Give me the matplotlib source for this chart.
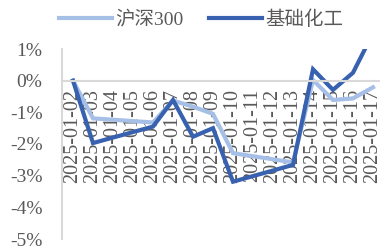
import numpy as np
import matplotlib
matplotlib.use('Agg')
import matplotlib.pyplot as plt

plt.rcParams['font.family'] = ['Liberation Serif', 'Noto Sans CJK SC', 'DejaVu Sans']

dates = ['2025-01-02', '2025-01-03', '2025-01-04', '2025-01-05', '2025-01-06',
         '2025-01-07', '2025-01-08', '2025-01-09', '2025-01-10', '2025-01-11',
         '2025-01-12', '2025-01-13', '2025-01-14', '2025-01-15', '2025-01-16',
         '2025-01-17']
# weekends have no data (nan), the line just connects over them
hs300 = [0.0, -1.19, np.nan, np.nan, -1.32, -0.63, -0.82, -1.05, -2.29,
         np.nan, np.nan, -2.58, 0.02, -0.61, -0.56, -0.21]
chem = [0.0, -1.97, np.nan, np.nan, -1.45, -0.61, -1.77, -1.50, -3.19,
        np.nan, np.nan, -2.66, 0.36, -0.29, 0.25, 1.5]
names = ['沪深300', '基础化工']

light = '#A6BFE7'
dark = '#3862AF'
grey_txt = '#595959'

fig = plt.figure(figsize=(3.8, 2.46), dpi=100)
ax = fig.add_axes([62 / 380, 1 - 239 / 246, 1 - 62 / 380, 190 / 246])
ax.set_axisbelow(True)

x = np.arange(len(dates))
for vals, col, lab in [(hs300, light, names[0]), (chem, dark, names[1])]:
    v = np.array(vals, dtype=float)
    ok = ~np.isnan(v)
    ax.plot(x[ok], v[ok], color=col, lw=3, label=lab, solid_joinstyle='miter')

ax.set_xlim(-0.55, 15.35)
ax.set_ylim(-5, 1)
ax.set_yticks(range(-5, 2))
ax.set_yticklabels([f'{t}%' for t in range(-5, 2)])
ax.set_xticks(x)
ax.set_xticklabels(dates)

for s in ['top', 'right']:
    ax.spines[s].set_visible(False)
ax.spines['bottom'].set_position(('data', 0))
ax.spines['bottom'].set_color('#D9D9D9')
ax.spines['left'].set_color('#D9D9D9')
ax.spines['bottom'].set_linewidth(1.5)
ax.spines['left'].set_linewidth(1.5)
ax.tick_params(axis='x', length=0, pad=6, labelsize=14.5, colors=grey_txt,
               labelrotation=90)
ax.tick_params(axis='y', length=0, pad=14, labelsize=14, colors=grey_txt)

fig.legend(loc='upper center', bbox_to_anchor=(0.53, 1.03), ncol=2, frameon=False,
           fontsize=14, handlelength=2.7, handletextpad=0.2, columnspacing=1.3,
           labelcolor=grey_txt)

fig.savefig('out.png', dpi=100)
